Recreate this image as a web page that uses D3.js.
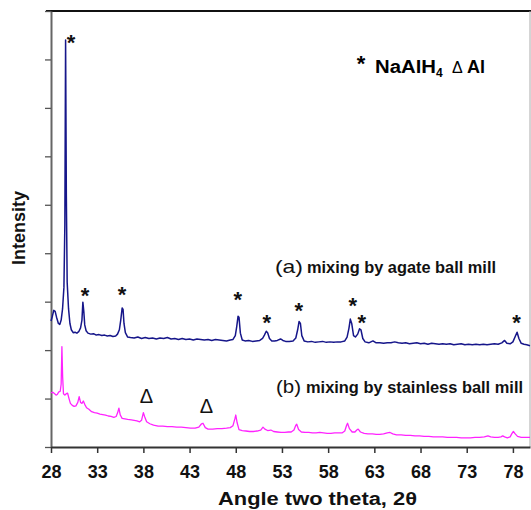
<!DOCTYPE html>
<html>
<head>
<meta charset="utf-8">
<script src="https://cdn.jsdelivr.net/npm/d3@7"></script>
<style>
  body { margin: 0; background: #fff; }
  text { font-family: "Liberation Sans", Arial, sans-serif; }
</style>
</head>
<body>
<div id="chart"></div>
<script>
// XRD patterns, intensity in arbitrary units (one unit = one y tick)
const angleA = [28.0, 28.15, 28.3, 28.45, 28.6, 28.8, 28.95, 29.1, 29.25, 29.4, 29.5, 29.58, 29.66, 29.75, 29.9, 30.05, 30.2, 30.4, 30.6, 30.8,
  31.0, 31.2, 31.35, 31.45, 31.55, 31.65, 31.8, 32.0, 32.3, 32.6, 32.9, 33.2, 33.5, 33.8, 34.1, 34.4, 34.7, 35.0, 35.2, 35.4,
  35.55, 35.7, 35.8, 35.9, 36.05, 36.3, 36.6, 37.0, 37.4, 37.8, 38.2, 38.6, 39.0, 39.4, 39.8, 40.2, 40.6, 41.0, 41.4, 41.8,
  42.2, 42.6, 43.0, 43.4, 43.8, 44.2, 44.6, 45.0, 45.4, 45.8, 46.2, 46.6, 47.0, 47.4, 47.7, 47.95, 48.1, 48.25, 48.35, 48.5,
  48.7, 49.0, 49.4, 49.8, 50.2, 50.6, 50.9, 51.1, 51.3, 51.45, 51.65, 51.9, 52.2, 52.5, 52.85, 53.1, 53.4, 53.8, 54.2, 54.5,
  54.7, 54.85, 55.0, 55.15, 55.4, 55.8, 56.2, 56.6, 57.0, 57.4, 57.8, 58.2, 58.6, 59.0, 59.4, 59.8, 60.05, 60.25, 60.4, 60.55,
  60.75, 60.95, 61.2, 61.4, 61.55, 61.75, 62.0, 62.4, 62.85, 63.2, 63.6, 64.0, 64.4, 64.8, 65.2, 65.6, 66.0, 66.4, 66.8, 67.2,
  67.6, 68.0, 68.4, 68.8, 69.2, 69.6, 70.0, 70.4, 70.8, 71.2, 71.6, 72.0, 72.4, 72.8, 73.2, 73.6, 74.0, 74.4, 74.8, 75.2,
  75.6, 76.0, 76.4, 76.8, 77.1, 77.35, 77.7, 78.0, 78.25, 78.45, 78.65, 78.9, 79.2, 79.5, 79.85];
const intA = [2.60, 2.70, 2.82, 2.80, 2.68, 2.55, 2.53, 2.62, 2.85, 3.30, 4.60, 8.40, 5.20, 3.40, 2.85, 2.55, 2.42, 2.36, 2.37, 2.35,
  2.38, 2.46, 2.62, 2.99, 2.80, 2.52, 2.40, 2.35, 2.33, 2.34, 2.31, 2.32, 2.30, 2.31, 2.29, 2.30, 2.28, 2.29, 2.33, 2.42,
  2.62, 2.87, 2.84, 2.55, 2.36, 2.27, 2.26, 2.25, 2.27, 2.24, 2.26, 2.24, 2.25, 2.23, 2.25, 2.24, 2.26, 2.23, 2.24, 2.22,
  2.24, 2.22, 2.23, 2.21, 2.23, 2.22, 2.21, 2.22, 2.20, 2.22, 2.21, 2.20, 2.19, 2.21, 2.22, 2.30, 2.48, 2.70, 2.68, 2.35,
  2.21, 2.19, 2.20, 2.18, 2.19, 2.20, 2.24, 2.31, 2.39, 2.36, 2.24, 2.19, 2.19, 2.20, 2.23, 2.20, 2.18, 2.18, 2.19, 2.25,
  2.42, 2.59, 2.55, 2.30, 2.19, 2.17, 2.18, 2.16, 2.17, 2.18, 2.16, 2.17, 2.16, 2.17, 2.17, 2.19, 2.27, 2.45, 2.64, 2.55,
  2.30, 2.27, 2.33, 2.44, 2.42, 2.24, 2.17, 2.15, 2.19, 2.15, 2.15, 2.14, 2.15, 2.15, 2.17, 2.15, 2.14, 2.15, 2.13, 2.14,
  2.15, 2.13, 2.14, 2.12, 2.14, 2.13, 2.12, 2.13, 2.12, 2.13, 2.11, 2.12, 2.13, 2.11, 2.12, 2.11, 2.12, 2.11, 2.12, 2.11,
  2.12, 2.13, 2.12, 2.15, 2.20, 2.14, 2.13, 2.17, 2.28, 2.37, 2.24, 2.14, 2.12, 2.11, 2.09];

const angleB = [28.0, 28.2, 28.4, 28.55, 28.7, 28.85, 29.0, 29.1, 29.18, 29.26, 29.35, 29.5, 29.65, 29.8, 29.95, 30.1, 30.3, 30.5, 30.7, 30.9,
  31.05, 31.2, 31.35, 31.5, 31.65, 31.85, 32.1, 32.4, 32.7, 33.0, 33.3, 33.6, 33.9, 34.2, 34.5, 34.8, 35.05, 35.2, 35.35, 35.5,
  35.7, 36.0, 36.3, 36.7, 37.0, 37.3, 37.6, 37.8, 38.0, 38.15, 38.35, 38.7, 39.1, 39.6, 40.1, 40.6, 41.1, 41.6, 42.1, 42.6,
  43.1, 43.6, 44.0, 44.3, 44.45, 44.7, 45.0, 45.5, 46.0, 46.5, 47.0, 47.4, 47.7, 47.9, 48.0, 48.15, 48.35, 48.7, 49.1, 49.5,
  49.9, 50.3, 50.7, 50.95, 51.15, 51.45, 51.8, 52.1, 52.5, 52.9, 53.3, 53.7, 54.0, 54.3, 54.5, 54.6, 54.8, 55.1, 55.5, 55.9,
  56.3, 56.7, 57.1, 57.5, 57.9, 58.3, 58.7, 59.1, 59.5, 59.8, 60.0, 60.1, 60.3, 60.6, 60.9, 61.1, 61.25, 61.5, 61.9, 62.3,
  62.8, 63.2, 63.6, 64.0, 64.4, 64.7, 65.0, 65.4, 65.9, 66.4, 66.9, 67.4, 67.9, 68.4, 68.9, 69.4, 69.9, 70.4, 70.9, 71.4,
  71.9, 72.4, 72.9, 73.4, 73.9, 74.4, 74.9, 75.3, 75.6, 76.0, 76.4, 76.7, 76.9, 77.1, 77.4, 77.7, 77.9, 78.05, 78.25, 78.5,
  78.9, 79.3, 79.85];
const intB = [1.12, 1.13, 1.10, 1.07, 1.09, 1.14, 1.15, 1.30, 2.07, 1.45, 1.10, 1.07, 1.10, 1.11, 1.00, 0.90, 0.86, 0.84, 0.85, 0.92,
  1.04, 0.92, 0.90, 0.95, 0.88, 0.81, 0.78, 0.73, 0.71, 0.70, 0.68, 0.67, 0.66, 0.64, 0.63, 0.61, 0.63, 0.70, 0.80, 0.66,
  0.59, 0.58, 0.57, 0.56, 0.55, 0.54, 0.52, 0.55, 0.71, 0.62, 0.52, 0.48, 0.45, 0.43, 0.43, 0.42, 0.42, 0.41, 0.41, 0.40,
  0.39, 0.39, 0.41, 0.48, 0.49, 0.40, 0.37, 0.37, 0.38, 0.38, 0.39, 0.40, 0.44, 0.58, 0.66, 0.50, 0.36, 0.34, 0.33, 0.32,
  0.32, 0.33, 0.35, 0.41, 0.37, 0.34, 0.35, 0.32, 0.31, 0.30, 0.30, 0.31, 0.31, 0.35, 0.45, 0.47, 0.36, 0.31, 0.30, 0.30,
  0.29, 0.29, 0.30, 0.29, 0.28, 0.28, 0.29, 0.29, 0.29, 0.33, 0.45, 0.49, 0.38, 0.31, 0.31, 0.35, 0.37, 0.31, 0.28, 0.27,
  0.27, 0.26, 0.26, 0.27, 0.29, 0.30, 0.27, 0.25, 0.25, 0.24, 0.24, 0.23, 0.23, 0.22, 0.22, 0.21, 0.21, 0.21, 0.20, 0.20,
  0.20, 0.19, 0.19, 0.19, 0.20, 0.20, 0.21, 0.23, 0.21, 0.20, 0.20, 0.21, 0.23, 0.21, 0.19, 0.21, 0.28, 0.32, 0.27, 0.22,
  0.20, 0.20, 0.20];

// peak markers (annotation anchor positions)
const starAngle = [30.16, 31.68, 35.68, 48.22, 51.36, 54.82, 60.66, 61.64, 78.40];
const starValue = [8.44, 3.22, 3.24, 3.14, 2.66, 2.91, 3.01, 2.66, 2.66];
const alAngle = [38.33, 44.82];
const alValue = [1.05, 0.84];

const xTicks = [28, 33, 38, 43, 48, 53, 58, 63, 68, 73, 78];
const yTicks = [0, 1, 2, 3, 4, 5, 6, 7, 8, 9];

const W = 531, H = 510;
const svg = d3.select('#chart').append('svg')
  .attr('width', W).attr('height', H);

const x = d3.scaleLinear().domain([28, 79.85]).range([51, 530]);
const y = d3.scaleLinear().domain([0, 9]).range([447, 11]);

// frame: top and right lines
svg.append('line').attr('x1', 46).attr('x2', 531).attr('y1', 11).attr('y2', 11)
  .attr('stroke', '#111').attr('stroke-width', 2);
svg.append('line').attr('x1', 530).attr('x2', 530).attr('y1', 11).attr('y2', 447)
  .attr('stroke', '#aaa').attr('stroke-width', 1);

const yAxis = svg.append('g')
  .attr('transform', 'translate(51,0)')
  .call(d3.axisLeft(y).tickValues(yTicks).tickFormat('').tickSize(6).tickSizeOuter(0));
yAxis.select('.domain').attr('stroke', '#666').attr('stroke-width', 2);
yAxis.selectAll('.tick line').attr('stroke', '#555').attr('stroke-width', 1.3);

const xAxis = svg.append('g')
  .attr('transform', 'translate(0,447)')
  .call(d3.axisBottom(x).tickValues(xTicks).tickSize(6).tickSizeOuter(0));
xAxis.select('.domain').attr('stroke', '#333').attr('stroke-width', 2);
xAxis.selectAll('.tick line').attr('stroke', '#333').attr('stroke-width', 1.5);
xAxis.selectAll('.tick text')
  .attr('y', 18).attr('dy', '0.71em')
  .style('font-family', '"Liberation Sans", Arial, sans-serif')
  .style('font-size', '18px').style('font-weight', 'bold').attr('fill', '#111');

const line = d3.line().x(d => x(d[0])).y(d => y(d[1]));

svg.append('path')
  .datum(angleB.map((a, i) => [a, intB[i]]))
  .attr('fill', 'none').attr('stroke', '#ff22ff').attr('stroke-width', 1.3)
  .attr('stroke-linejoin', 'round')
  .attr('d', line);

svg.append('path')
  .datum(angleA.map((a, i) => [a, intA[i]]))
  .attr('fill', 'none').attr('stroke', '#16168a').attr('stroke-width', 1.5)
  .attr('stroke-linejoin', 'round')
  .attr('d', line);

svg.append('g').selectAll('text')
  .data(starAngle)
  .join('text')
  .attr('x', d => x(d))
  .attr('y', (d, i) => y(starValue[i]) + 12)
  .attr('text-anchor', 'middle')
  .style('font-size', '22px').style('font-weight', 'bold').attr('fill', '#111')
  .text('*');

svg.append('g').selectAll('text')
  .data(alAngle)
  .join('text')
  .attr('x', d => x(d))
  .attr('y', (d, i) => y(alValue[i]) + 7)
  .attr('text-anchor', 'middle')
  .style('font-size', '20px').attr('fill', '#111')
  .text('Δ');

// legend
svg.append('text').attr('x', 361).attr('y', 71).attr('text-anchor', 'middle')
  .style('font-size', '22px').style('font-weight', 'bold').text('*');
svg.append('text').attr('x', 375).attr('y', 73)
  .attr('textLength', 61).attr('lengthAdjust', 'spacingAndGlyphs')
  .style('font-size', '18px').style('font-weight', 'bold').text('NaAlH');
svg.append('text').attr('x', 436).attr('y', 77)
  .style('font-size', '12px').style('font-weight', 'bold').text('4');
svg.append('text').attr('x', 452).attr('y', 73)
  .style('font-size', '16px').text('Δ');
svg.append('text').attr('x', 467).attr('y', 73)
  .style('font-size', '18px').style('font-weight', 'bold').text('Al');

// series labels
svg.append('text').attr('x', 275).attr('y', 273)
  .attr('textLength', 28).attr('lengthAdjust', 'spacingAndGlyphs')
  .style('font-size', '19px').attr('fill', '#111').text('(a)');
svg.append('text').attr('x', 307).attr('y', 273)
  .attr('textLength', 189).attr('lengthAdjust', 'spacingAndGlyphs')
  .style('font-size', '17px').style('font-weight', 'bold').attr('fill', '#111')
  .text('mixing by agate ball mill');
svg.append('text').attr('x', 276).attr('y', 393)
  .attr('textLength', 25).attr('lengthAdjust', 'spacingAndGlyphs')
  .style('font-size', '19px').attr('fill', '#111').text('(b)');
svg.append('text').attr('x', 306).attr('y', 393)
  .attr('textLength', 217).attr('lengthAdjust', 'spacingAndGlyphs')
  .style('font-size', '17px').style('font-weight', 'bold').attr('fill', '#111')
  .text('mixing by stainless ball mill');

// axis titles
svg.append('text').attr('x', 218).attr('y', 505)
  .attr('textLength', 199).attr('lengthAdjust', 'spacingAndGlyphs')
  .style('font-size', '18px').style('font-weight', 'bold').attr('fill', '#111')
  .text('Angle two theta, 2θ');
svg.append('text')
  .attr('transform', 'translate(25,228) rotate(-90)')
  .attr('text-anchor', 'middle')
  .style('font-size', '18px').style('font-weight', 'bold').attr('fill', '#111')
  .text('Intensity');
</script>
</body>
</html>
